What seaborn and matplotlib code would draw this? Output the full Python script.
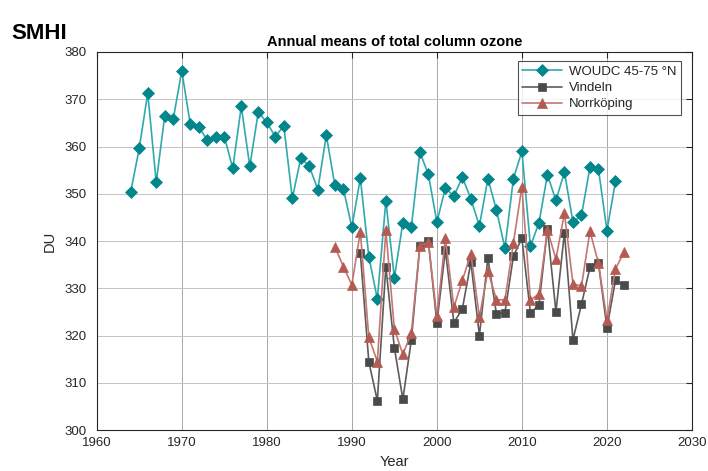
import numpy as np
import pandas as pd
import matplotlib
matplotlib.use("Agg")
import matplotlib.pyplot as plt
import seaborn as sns

# Annual means of total column ozone (DU)
woudc_years = list(range(1964, 2022))
woudc_du = [350.4, 359.6, 371.3, 352.4, 366.5, 365.8, 376.0, 364.8, 364.1, 361.4,
            362.1, 362.1, 355.4, 368.5, 355.8, 367.3, 365.1, 362.1, 364.4, 349.0,
            357.6, 355.8, 350.9, 362.4, 351.8, 351.1, 342.9, 353.3, 336.7, 327.7,
            348.5, 332.2, 343.9, 343.0, 358.8, 354.1, 344.0, 351.2, 349.5, 353.5,
            348.9, 343.2, 353.2, 346.6, 338.5, 353.2, 359.0, 338.9, 343.8, 354.0,
            348.6, 354.6, 344.0, 345.4, 355.6, 355.2, 342.2, 352.6]

vindeln_years = list(range(1991, 2023))
vindeln_du = [337.4, 314.4, 306.2, 334.6, 317.4, 306.5, 319.1, 339.0, 339.9, 322.6,
              338.1, 322.7, 325.7, 335.5, 320.0, 336.4, 324.6, 324.8, 336.8, 340.6,
              324.8, 326.4, 342.6, 325.0, 341.8, 319.1, 326.6, 334.4, 335.3, 321.6,
              331.7, 330.7]

norrkoping_years = list(range(1988, 2023))
norrkoping_du = [338.8, 334.6, 330.7, 342.0, 319.6, 314.5, 342.3, 321.4, 316.0, 320.6,
                 339.0, 339.7, 324.1, 340.6, 326.0, 331.7, 337.3, 323.9, 333.7, 327.6,
                 327.5, 339.6, 351.5, 327.5, 328.8, 342.3, 336.2, 345.9, 331.0, 330.4,
                 342.1, 335.3, 323.3, 334.1, 337.6]

series_names = ["WOUDC 45-75 \u00b0N", "Vindeln", "Norrk\u00f6ping"]
x_ticks = [1960, 1970, 1980, 1990, 2000, 2010, 2020, 2030]
y_ticks = [300, 310, 320, 330, 340, 350, 360, 370, 380]

sns.set_theme(style="white")
plt.rcParams["font.family"] = ["Liberation Sans", "DejaVu Sans"]

fig = plt.figure(figsize=(7.08, 4.71), dpi=100)
ax = fig.add_axes([0.1366, 0.087, 0.8408, 0.8026])

styles = [
    dict(line="#2fa9ae", face="#00868b", marker="D", ms=6.5),
    dict(line="#5c5c5c", face="#4a4a4a", marker="s", ms=5.5),
    dict(line="#c47670", face="#b35a52", marker="^", ms=7.5),
]
datasets = [(woudc_years, woudc_du), (vindeln_years, vindeln_du),
            (norrkoping_years, norrkoping_du)]

for name, (yrs, vals), st in zip(series_names, datasets, styles):
    df = pd.DataFrame({"Year": yrs, "DU": vals})
    sns.lineplot(data=df, x="Year", y="DU", ax=ax, color=st["line"], lw=1.2,
                 marker=st["marker"], markersize=st["ms"],
                 markerfacecolor=st["face"], markeredgecolor=st["face"],
                 markeredgewidth=0.5, label=name)

ax.set_xlim(1960, 2030)
ax.set_ylim(300, 380)
ax.set_xticks(x_ticks)
ax.set_yticks(y_ticks)
ax.tick_params(axis="both", direction="in", length=4, width=0.8, colors="#262626",
               labelsize=9.5, top=True, right=True, labeltop=False, labelright=False)
ax.tick_params(axis="x", pad=5)
ax.tick_params(axis="y", pad=7)
ax.xaxis.grid(True, color="#a8a8a8", lw=0.7)
ax.yaxis.grid(True, color="#c4c4c4", lw=0.7)
ax.set_axisbelow(True)
for sp in ax.spines.values():
    sp.set_visible(True)
    sp.set_color("#262626")
    sp.set_linewidth(0.8)

ax.set_xlabel("Year", fontsize=10.5, color="#262626", labelpad=4)
ax.set_ylabel("DU", fontsize=10.5, color="#262626", labelpad=6)
ax.set_title("Annual means of total column ozone", fontsize=10.5,
             fontweight="bold", color="#000000", pad=4)

leg = ax.legend(loc="upper right", bbox_to_anchor=(0.981, 0.976), fontsize=9.5,
                frameon=True, fancybox=False, edgecolor="#262626",
                handlelength=3.0, borderpad=0.35, labelspacing=0.3,
                borderaxespad=0.0, handletextpad=0.5)
leg.get_frame().set_linewidth(0.8)
leg.get_frame().set_facecolor("white")

fig.text(0.016, 0.917, "SMHI", fontsize=16, fontweight="heavy", color="black",
         family=["Liberation Sans Narrow", "Liberation Sans", "DejaVu Sans"],
         ha="left", va="baseline")

fig.savefig("out.png", dpi=100)
